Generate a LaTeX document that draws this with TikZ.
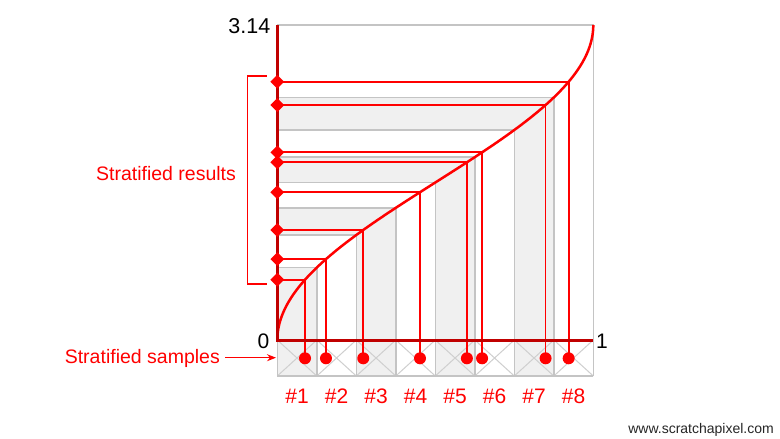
\documentclass[tikz,border=0pt]{standalone}
\usepackage{fontspec}
\setmainfont{Liberation Sans}
\usetikzlibrary{shapes.geometric,arrows.meta,backgrounds}
\definecolor{sred}{HTML}{FF0000}
\definecolor{axred}{HTML}{C00000}
\definecolor{band}{HTML}{F0F0F0}
\definecolor{gline}{HTML}{C4C4C4}
\definecolor{xline}{HTML}{CFCFCF}
\begin{document}
\begin{tikzpicture}[x=1pt,y=-1pt,
  dot/.style={circle,fill=sred,inner sep=0pt,minimum size=12pt},
  dia/.style={diamond,fill=sred,inner sep=0pt,minimum width=14pt,minimum height=14pt},
  grayln/.style={draw=gline,line width=1.6pt},
  redln/.style={draw=sred,line width=1.8pt},
  lbl/.style={inner sep=0pt,text=sred},
  blk/.style={inner sep=0pt,text=black}]
\useasboundingbox (0,0) rectangle (780,439);
\def\ox{277.3}\def\oy{340}\def\W{316}\def\H{315}
% sample nodes
\foreach \s [count=\i] in {0.0877,0.154,0.272,0.4516,0.600,0.648,0.849,0.922}{
  \pgfmathsetmacro{\px}{\ox+\W*\s}
  \pgfmathsetmacro{\py}{\oy-(\H/180)*acos(1-2*\s)}
  \coordinate (c\i) at (\px,\py);
  \node[dot] (s\i) at (\px,358.3) {};
  \node[dia] (d\i) at (\ox,\py) {};
}
\begin{pgfonlayer}{background}
\fill[white] (0,0) rectangle (780,439);
% bands
\foreach \k/\c in {8/white,7/band,6/white,5/band,4/white,3/band,2/white,1/band}{
  \pgfmathsetmacro{\xk}{\ox+\W*\k/8}
  \pgfmathsetmacro{\yk}{\oy-(\H/180)*acos(1-2*\k/8)}
  \fill[\c] (\ox,\oy) rectangle (\xk,\yk);
}
% strip
\foreach \i in {1,3,5,7}{
  \pgfmathsetmacro{\xa}{\ox+\W*(\i-1)/8}
  \pgfmathsetmacro{\xb}{\ox+\W*\i/8}
  \fill[band] (\xa,340) rectangle (\xb,376);
}
\foreach \i in {1,...,8}{
  \pgfmathsetmacro{\xa}{\ox+\W*(\i-1)/8}
  \pgfmathsetmacro{\xb}{\ox+\W*\i/8}
  \draw[xline,line width=1pt] (\xa,340) -- (\xb,376) (\xa,376) -- (\xb,340);
}
% gray L lines
\foreach \k in {1,...,7}{
  \pgfmathsetmacro{\xk}{\ox+\W*\k/8}
  \pgfmathsetmacro{\yk}{\oy-(\H/180)*acos(1-2*\k/8)}
  \draw[grayln] (\ox,\yk) -- (\xk,\yk) -- (\xk,376);
}
\draw[grayln] (\ox,25) -- (593.3,25) -- (593.3,376);
\draw[grayln] (\ox,340) -- (\ox,376);
\draw[draw=gline,line width=2.4pt] (\ox,376) -- (593.3,376);
% red sample lines
\foreach \i in {1,...,8}{
  \draw[redln] (s\i.center) -- (c\i) -- (d\i.center);
}
% curve
\draw[sred,line width=2.5pt] plot[domain=0:180,samples=120] ({\ox+\W*(1-cos(\x))/2},{\oy-(\H/180)*\x});
% axes
\draw[axred,line width=3pt] (\ox,25) -- (\ox,\oy) -- (593.3,\oy);
% bracket
\draw[sred,line width=1.3pt] (266.7,76) -- (247.3,76) -- (247.3,284) -- (266.7,284);
\end{pgfonlayer}
% labels
\foreach \i in {1,...,8}{
  \pgfmathsetmacro{\cx}{\ox+\W*(\i-0.5)/8}
  \node[lbl,anchor=base,font=\fontsize{21}{24}\selectfont] (n\i) at (\cx,403.3) {\#\i};
}
\node[blk,anchor=base east,font=\fontsize{21.5}{24}\selectfont] (top) at (270.5,33) {3.14};
\node[blk,anchor=base east,font=\fontsize{21}{24}\selectfont] (zero) at (269.5,348) {0};
\node[blk,anchor=base west,font=\fontsize{21}{24}\selectfont] (one) at (596,348) {1};
\node[lbl,anchor=base,font=\fontsize{19.5}{23}\selectfont] (res) at (166,180.7) {Stratified results};
\node[lbl,anchor=base east,font=\fontsize{19.5}{23}\selectfont] (samp) at (220,363.3) {Stratified samples};
\coordinate (aS) at (225,357.7);
\coordinate (aE) at (276,357.7);
\draw[sred,line width=1.3pt,-{Stealth[length=9pt,width=7pt]}] (aS) -- (aE);
\node[inner sep=0pt,text=black!85,anchor=base east,font=\fontsize{14}{17}\selectfont] (web) at (774,433) {www.scratchapixel.com};
\end{tikzpicture}
\end{document}
